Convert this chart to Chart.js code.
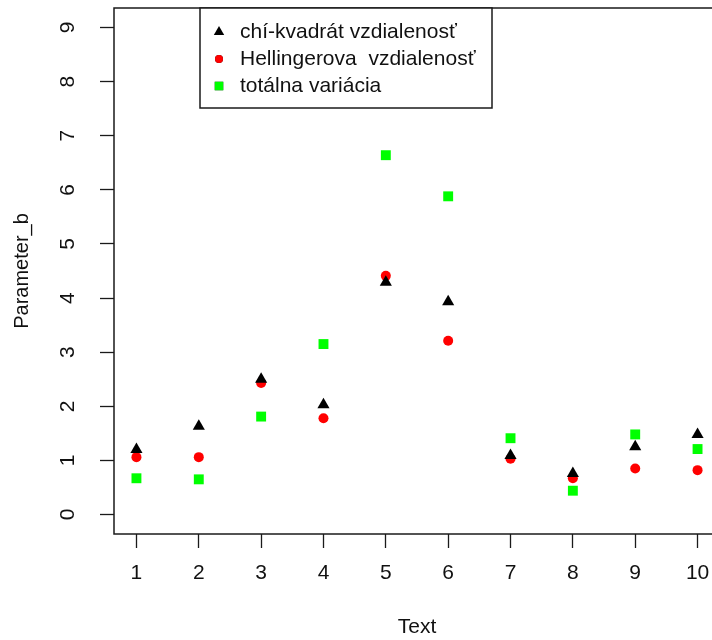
<!DOCTYPE html>
<html>
<head>
<meta charset="utf-8">
<script src="https://cdn.jsdelivr.net/npm/chart.js@4/dist/chart.umd.min.js"></script>
<style>
  html, body { margin: 0; padding: 0; background: #fff; overflow: hidden; }
  #wrap { width: 740px; height: 640px; }
</style>
</head>
<body>
<div id="wrap"><canvas id="chart"></canvas></div>
<script>
// texts 1..10 on the x axis
const xValues = [1, 2, 3, 4, 5, 6, 7, 8, 9, 10];
const xTicks = [1, 2, 3, 4, 5, 6, 7, 8, 9, 10];
const yTicks = [0, 1, 2, 3, 4, 5, 6, 7, 8, 9];

const chiKvadrat = [1.20, 1.63, 2.50, 2.03, 4.29, 3.93, 1.09, 0.76, 1.25, 1.48];
const hellinger = [1.06, 1.06, 2.43, 1.78, 4.41, 3.21, 1.03, 0.67, 0.85, 0.82];
const totalna = [0.67, 0.65, 1.81, 3.15, 6.64, 5.88, 1.41, 0.44, 1.48, 1.21];

const seriesLabels = ['chí-kvadrát vzdialenosť', 'Hellingerova  vzdialenosť', 'totálna variácia'];

const FONT = "'Liberation Sans', Arial, sans-serif";

const toPoints = vals => vals.map((v, i) => ({ x: xValues[i], y: v }));

// R style full box around the plot region
const boxPlugin = {
  id: 'box',
  afterDraw(chart) {
    const { ctx, chartArea: a } = chart;
    ctx.save();
    ctx.strokeStyle = '#1a1a1a';
    ctx.lineWidth = 1.5;
    ctx.strokeRect(a.left, a.top, a.right - a.left, a.bottom - a.top);
    ctx.restore();
  }
};

// legend box in the top left part of the plot
const legendBox = {
  id: 'legendBox',
  afterDraw(chart) {
    const ctx = chart.ctx;
    const top = chart.chartArea.top;
    const left = 200, right = 492, bottom = 108;
    ctx.save();
    ctx.fillStyle = '#fff';
    ctx.fillRect(left, top, right - left, bottom - top);
    ctx.strokeStyle = '#1a1a1a';
    ctx.lineWidth = 1.5;
    ctx.strokeRect(left, top, right - left, bottom - top);
    ctx.font = '21px ' + FONT;
    ctx.textBaseline = 'middle';
    ctx.textAlign = 'left';
    chart.data.datasets.forEach((ds, i) => {
      const y = 32 + i * 27;
      Chart.helpers.drawPoint(ctx, {
        pointStyle: ds.pointStyle,
        radius: ds.pointRadius - 1,
        borderWidth: 0
      }, 219, y);
      ctx.fillStyle = ds.backgroundColor;
      ctx.fill();
      ctx.fillStyle = '#111';
      ctx.fillText(ds.label, 240, y);
    });
    ctx.restore();
  }
};

const datasets = [
  {
    label: seriesLabels[0],
    data: toPoints(chiKvadrat),
    pointStyle: 'triangle',
    pointRadius: 7,
    backgroundColor: '#000000',
    borderColor: '#000000',
    borderWidth: 0
  },
  {
    label: seriesLabels[1],
    data: toPoints(hellinger),
    pointStyle: 'circle',
    pointRadius: 5,
    backgroundColor: '#ff0000',
    borderColor: '#ff0000',
    borderWidth: 0
  },
  {
    label: seriesLabels[2],
    data: toPoints(totalna),
    pointStyle: 'rect',
    pointRadius: 7,
    backgroundColor: '#00ff00',
    borderColor: '#00ff00',
    borderWidth: 0
  }
];

new Chart(document.getElementById('chart'), {
  type: 'scatter',
  data: { datasets: datasets },
  options: {
    responsive: true,
    maintainAspectRatio: false,
    animation: false,
    layout: { padding: { top: 8, right: 20, left: 0, bottom: 0 } },
    plugins: {
      legend: { display: false },
      tooltip: { enabled: false }
    },
    scales: {
      x: {
        type: 'linear',
        min: 0.64,
        max: 10.36,
        afterBuildTicks: axis => { axis.ticks = xTicks.map(v => ({ value: v })); },
        afterFit: axis => {
          axis.height = 106;
          axis.paddingLeft = 0;
          axis.paddingRight = 0;
        },
        border: { display: false },
        grid: {
          drawOnChartArea: false,
          drawTicks: true,
          tickLength: 14,
          tickWidth: 1.3,
          tickColor: '#1a1a1a'
        },
        ticks: {
          color: '#111',
          font: { family: FONT, size: 21 },
          padding: 13,
          maxRotation: 0,
          autoSkip: false
        },
        title: {
          display: true,
          text: 'Text',
          color: '#111',
          font: { family: FONT, size: 21 },
          padding: { top: 0, bottom: 0 }
        }
      },
      y: {
        min: -0.36,
        max: 9.36,
        afterBuildTicks: axis => { axis.ticks = yTicks.map(v => ({ value: v })); },
        afterFit: axis => {
          axis.width = 114;
          axis.paddingTop = 0;
          axis.paddingBottom = 0;
        },
        border: { display: false },
        grid: {
          drawOnChartArea: false,
          drawTicks: true,
          tickLength: 14,
          tickWidth: 1.3,
          tickColor: '#1a1a1a'
        },
        ticks: {
          color: '#111',
          font: { family: FONT, size: 21 },
          minRotation: 90,
          maxRotation: 90,
          crossAlign: 'center',
          padding: 26
        },
        title: {
          display: true,
          text: 'Parameter_b',
          color: '#111',
          font: { family: FONT, size: 20 },
          padding: { top: 10, bottom: 0 }
        }
      }
    }
  },
  plugins: [boxPlugin, legendBox]
});
</script>
</body>
</html>
